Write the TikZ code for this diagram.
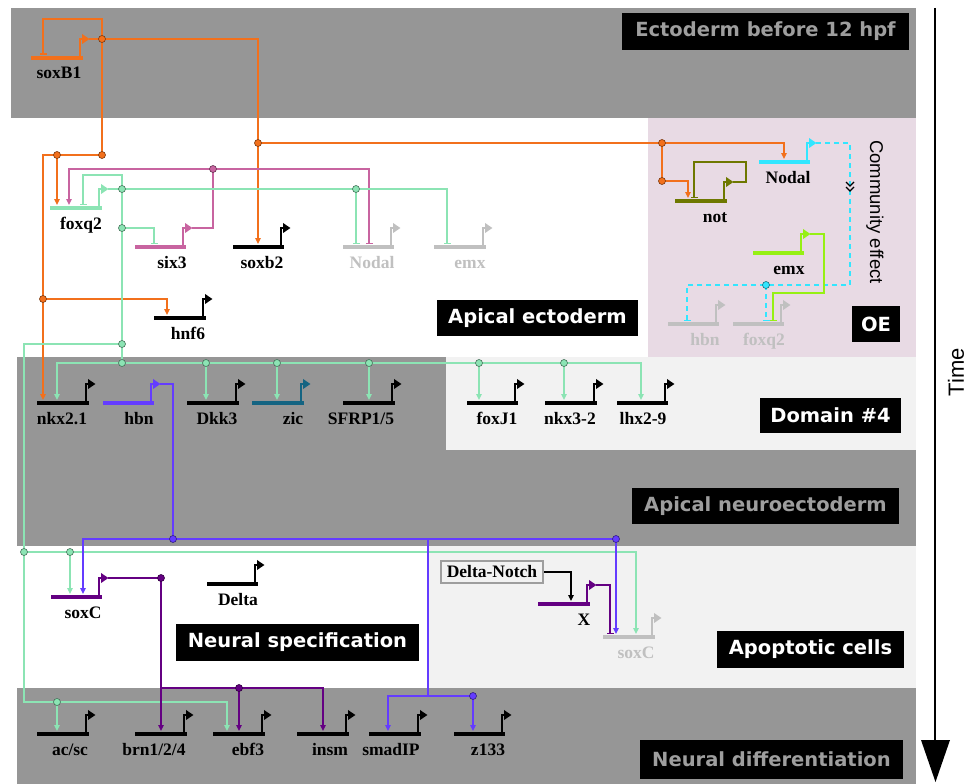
\documentclass[tikz,border=0pt]{standalone}
\usepackage{fontspec}
\setmainfont{Liberation Serif}
\newfontfamily\boxfont{DejaVu Sans}
\newfontfamily\helv{Liberation Sans}
\usetikzlibrary{arrows.meta}
\definecolor{cOr}{RGB}{242,112,28}
\definecolor{cMint}{RGB}{140,228,180}
\definecolor{cPink}{RGB}{200,100,160}
\definecolor{cBlue}{RGB}{100,60,255}
\definecolor{cPurp}{RGB}{100,0,130}
\definecolor{cTeal}{RGB}{20,100,130}
\definecolor{cOlive}{RGB}{110,120,0}
\definecolor{cCyan}{RGB}{50,230,255}
\definecolor{cLime}{RGB}{150,240,20}
\definecolor{cGene}{RGB}{192,192,192}
\definecolor{cBg}{RGB}{150,150,150}
\definecolor{cPinkBg}{RGB}{232,218,228}
\definecolor{cLight}{RGB}{242,242,242}
\definecolor{cLbl}{RGB}{158,158,158}
\newcommand{\gene}[8]{%
  \draw[line width=3.8pt,#5] (#2,#4) -- (#3,#4);
  \draw[line width=2.6pt,#5,-{Triangle[length=7.5pt,width=9.5pt]}] (#3-3,#4+1) -- (#3-3,#4-19) -- (#3+6.5,#4-19);
  \node[genelbl,text=#8,anchor=base] (#1) at (#7,#4+21) {#6};
}
\begin{document}
\begin{tikzpicture}[x=1pt,y=-1pt,
  con/.style={line width=1.5pt},
  act/.style={con,-{Triangle[length=6pt,width=5.5pt]}},
  inh/.style={con,-{Bar[width=7pt,line width=1.5pt]}},
  dot/.style={circle,inner sep=0pt,minimum size=7pt,fill=#1,draw=#1!50!black,line width=0.6pt},
  regionlbl/.style={fill=black,font=\boxfont\bfseries\fontsize{19.5}{22}\selectfont,inner sep=0pt},
  genelbl/.style={font=\bfseries\fontsize{17.5}{20}\selectfont,inner sep=0pt},
  dashc/.style={dash pattern=on 5pt off 4pt}]
\useasboundingbox (0,0) rectangle (967,784);
% backgrounds
\fill[cBg] (11,8) rectangle (916,118);
\fill[cPinkBg] (648,118) rectangle (916,357);
\fill[cBg] (17,357) rectangle (916,546);
\fill[cLight] (446,357) rectangle (916,450);
\fill[cLight] (427,546) rectangle (916,688);
\fill[cBg] (17,688) rectangle (916,784);
% region labels
\node[regionlbl,text=cLbl,minimum width=287pt,minimum height=37pt] (lEcto) at (765.5,31.5) {Ectoderm before 12 hpf};
\node[regionlbl,text=white,minimum width=201pt,minimum height=36pt] (lApical) at (537.5,318) {Apical ectoderm};
\node[regionlbl,text=white,minimum width=48pt,minimum height=36pt] (lOE) at (876,324) {OE};
\node[regionlbl,text=white,minimum width=141pt,minimum height=35pt] (lDom) at (830.5,415.5) {Domain \#4};
\node[regionlbl,text=cLbl,minimum width=267pt,minimum height=36pt] (lNeuro) at (765.5,506) {Apical neuroectoderm};
\node[regionlbl,text=white,minimum width=243pt,minimum height=37pt] (lSpec) at (297.5,642.5) {Neural specification};
\node[regionlbl,text=white,minimum width=187pt,minimum height=37pt] (lApo) at (810.5,649.5) {Apoptotic cells};
\node[regionlbl,text=cLbl,minimum width=263pt,minimum height=39pt] (lDiff) at (771.5,759.5) {Neural differentiation};
% time arrow
\coordinate (tA) at (935,8);
\coordinate (tB) at (935,742);
\draw[line width=1.8pt] (tA) -- (tB);
\fill (921,740) -- (950,740) -- (935.5,782) -- cycle;
\node[rotate=90,font=\helv\fontsize{22}{24}\selectfont] (time) at (956,372) {Time};
\node[rotate=-90,font=\helv\fontsize{18.5}{20}\selectfont] (ce) at (875,212) {Community effect};
% genes
\gene{soxB1}{31}{83}{58}{cOr}{soxB1}{59}{black}
\gene{foxq2}{50}{102}{208}{cMint}{foxq2}{81}{black}
\gene{six3}{135}{186}{247}{cPink}{six3}{172}{black}
\gene{soxb2}{233}{284}{247}{black}{soxb2}{262}{black}
\gene{NodalG}{343}{394}{247}{cGene}{Nodal}{372}{cGene}
\gene{emxG}{434}{486}{247}{cGene}{emx}{470}{cGene}
\gene{hnf6}{154}{206}{318}{black}{hnf6}{188}{black}
\gene{Nodal}{759}{810}{162}{cCyan}{Nodal}{788}{black}
\gene{not}{675}{727}{201}{cOlive}{not}{715}{black}
\gene{emxOE}{753}{804}{253}{cLime}{emx}{789}{black}
\gene{hbnOE}{668}{719}{324}{cGene}{hbn}{705}{cGene}
\gene{foxqOE}{733}{784}{324}{cGene}{foxq2}{764}{cGene}
\gene{nkx21}{37}{89}{403}{black}{nkx2.1}{62}{black}
\gene{hbn}{103}{154}{403}{cBlue}{hbn}{139}{black}
\gene{Dkk3}{187}{239}{403}{black}{Dkk3}{217}{black}
\gene{zic}{252}{304}{403}{cTeal}{zic}{293}{black}
\gene{SFRP}{343}{395}{403}{black}{SFRP1/5}{361}{black}
\gene{foxJ1}{467}{518}{403}{black}{foxJ1}{497}{black}
\gene{nkx32}{545}{597}{403}{black}{nkx3-2}{570}{black}
\gene{lhx29}{617}{668}{403}{black}{lhx2-9}{643}{black}
\gene{soxC}{51}{102}{597}{cPurp}{soxC}{83}{black}
\gene{Delta}{207}{258}{584}{black}{Delta}{238}{black}
\gene{X}{538}{590}{604}{cPurp}{X}{584}{black}
\gene{soxCG}{603}{655}{637}{cGene}{soxC}{636}{cGene}
\gene{acsc}{37}{89}{734}{black}{ac/sc}{70}{black}
\gene{brn}{135}{187}{734}{black}{brn1/2/4}{154}{black}
\gene{ebf3}{213}{265}{734}{black}{ebf3}{248}{black}
\gene{insm}{297}{349}{734}{black}{insm}{330}{black}
\gene{smadIP}{369}{421}{734}{black}{smadIP}{391}{black}
\gene{z133}{454}{505}{734}{black}{z133}{488}{black}
% Delta-Notch box
\node[draw=cLbl,line width=2pt,inner sep=0pt,minimum width=102pt,minimum height=22pt,font=\bfseries\fontsize{17.5}{20}\selectfont] (DN) at (492,572) {Delta-Notch};
% orange connectors
\draw[con,cOr] (89,39) -- (102,39);
\draw[act,cOr] (102,39) -- (258,39) -- (258,244);
\draw[inh,cOr] (102,39) -- (102,19) -- (43,19) -- (43,55);
\draw[act,cOr] (102,39) -- (102,155) -- (43,155) -- (43,400);
\draw[act,cOr] (57,155) -- (57,205);
\draw[act,cOr] (43,299) -- (167,299) -- (167,315);
\draw[con,cOr] (258,143) -- (662,143);
\draw[act,cOr] (662,143) -- (784,143) -- (784,159);
\draw[act,cOr] (662,143) -- (662,181) -- (688,181) -- (688,198);
% pink
\draw[con,cPink] (192,228) -- (213,228) -- (213,169);
\draw[act,cPink] (213,169) -- (69,169) -- (69,205);
\draw[inh,cPink] (213,169) -- (369,169) -- (369,244);
% mint
\draw[con,cMint] (108,189) -- (122,189);
\draw[inh,cMint] (122,189) -- (122,175) -- (83,175) -- (83,205);
\draw[inh,cMint] (122,189) -- (447,189) -- (447,244);
\draw[inh,cMint] (356,189) -- (356,244);
\draw[con,cMint] (122,189) -- (122,363);
\draw[inh,cMint] (122,228) -- (154,228) -- (154,244);
\draw[act,cMint] (122,344) -- (24,344) -- (24,702) -- (227,702) -- (227,731);
\draw[act,cMint] (57,702) -- (57,731);
\draw[act,cMint] (122,363) -- (57,363) -- (57,400);
\draw[act,cMint] (122,363) -- (641,363) -- (641,400);
\foreach \x in {206,277,369,479,564} \draw[act,cMint] (\x,363) -- (\x,400);
\draw[act,cMint] (24,552) -- (636,552) -- (636,634);
\draw[act,cMint] (70,552) -- (70,594);
% blue
\draw[con,cBlue] (160,384) -- (173,384) -- (173,539);
\draw[act,cBlue] (173,539) -- (83,539) -- (83,594);
\draw[act,cBlue] (173,539) -- (616,539) -- (616,634);
\draw[con,cBlue] (428,539) -- (428,696);
\draw[act,cBlue] (428,696) -- (388,696) -- (388,731);
\draw[act,cBlue] (428,696) -- (473,696) -- (473,731);
% purple
\draw[act,cPurp] (108,578) -- (161,578) -- (161,731);
\draw[act,cPurp] (161,688) -- (323,688) -- (323,731);
\draw[act,cPurp] (239,688) -- (239,731);
\draw[inh,cPurp] (596,585) -- (610,585) -- (610,634);
% black
\draw[black,line width=1.2pt,-{Triangle[length=6pt,width=5.5pt]}] (DN.east) -- (571,572) -- (571,601);
% olive
\draw[inh,cOlive] (733,182) -- (746,182) -- (746,162) -- (694,162) -- (694,198);
% cyan dashed
\draw[inh,cCyan,dashc] (816,143) -- (850,143) -- (850,285) -- (687,285) -- (687,321);
\draw[inh,cCyan,dashc] (766,285) -- (766,321);
\draw[line width=1.2pt] (846,182) -- (850,186) -- (854,182);
\draw[line width=1.2pt] (846,187) -- (850,191) -- (854,187);
% lime
\draw[inh,cLime] (810,234) -- (824,234) -- (824,293) -- (773,293) -- (773,321);
% dots
\node[dot=cOr] (o1) at (102,39) {};
\node[dot=cOr] (o2) at (102,155) {};
\node[dot=cOr] (o3) at (57,155) {};
\node[dot=cOr] (o4) at (43,299) {};
\node[dot=cOr] (o5) at (258,143) {};
\node[dot=cOr] (o6) at (662,143) {};
\node[dot=cOr] (o7) at (662,181) {};
\node[dot=cPink] (p1) at (213,169) {};
\node[dot=cMint] (m1) at (122,189) {};
\node[dot=cMint] (m2) at (356,189) {};
\node[dot=cMint] (m3) at (122,228) {};
\node[dot=cMint] (m4) at (122,344) {};
\node[dot=cMint] (m5) at (122,363) {};
\node[dot=cMint] (m6) at (206,363) {};
\node[dot=cMint] (m7) at (277,363) {};
\node[dot=cMint] (m8) at (369,363) {};
\node[dot=cMint] (m9) at (479,363) {};
\node[dot=cMint] (m10) at (564,363) {};
\node[dot=cMint] (m11) at (24,552) {};
\node[dot=cMint] (m12) at (70,552) {};
\node[dot=cMint] (m13) at (57,702) {};
\node[dot=cBlue] (b1) at (173,539) {};
\node[dot=cBlue] (b2) at (616,539) {};
\node[dot=cBlue] (b3) at (473,696) {};
\node[dot=cPurp] (u1) at (161,578) {};
\node[dot=cPurp] (u2) at (239,688) {};
\node[dot=cCyan] (c1) at (766,285) {};
\end{tikzpicture}
\end{document}
